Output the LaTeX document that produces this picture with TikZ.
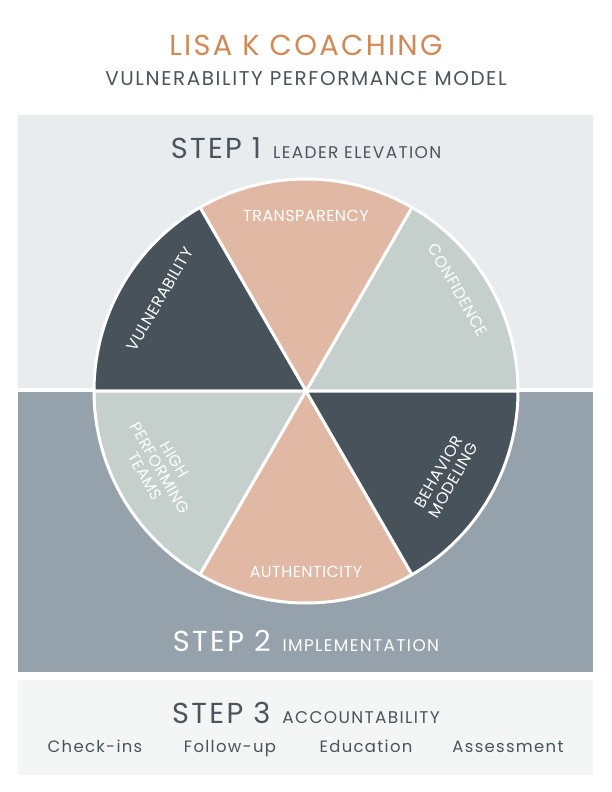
\documentclass[tikz,border=0pt]{standalone}
\usepackage{fontspec}
\setmainfont[LetterSpace=8]{Poppins}
\newfontfamily\wedgefont[LetterSpace=3]{Poppins}
\definecolor{darkslate}{HTML}{47525B}
\definecolor{blush}{HTML}{E0B8A3}
\definecolor{sage}{HTML}{C5CFCC}
\definecolor{bandone}{HTML}{E8ECEF}
\definecolor{bandtwo}{HTML}{95A2AB}
\definecolor{bandthree}{HTML}{F4F5F5}
\definecolor{copper}{HTML}{D08A57}
\definecolor{ink}{HTML}{4A545C}
\tikzset{
  wd/.style={draw=white,line width=3bp,line join=round},
  wl/.style={text=white,font=\wedgefont\fontsize{16}{17}\selectfont,align=center}
}
\newcommand{\steprow}[2]{\fontsize{29}{32}\selectfont STEP #1\hspace{12bp}\fontsize{17}{20}\selectfont #2}
\begin{document}
\begin{tikzpicture}[x=1bp,y=-1bp]
\useasboundingbox[fill=white] (0,0) rectangle (612,792);
\fill[bandone] (18,115) rectangle (593,388);
\fill[bandtwo] (18,392) rectangle (593,672);
\fill[bandthree] (18,680) rectangle (593,775);
\node[text=copper,font=\fontsize{29}{32}\selectfont] (title) at (306,45) {LISA K COACHING};
\node[text=ink,font=\fontsize{20}{24}\selectfont] (subtitle) at (306,79) {VULNERABILITY PERFORMANCE MODEL};
% wheel
\coordinate (c) at (306,391);
\foreach \a/\col in {300/sage,240/blush,180/darkslate,120/sage,60/blush,0/darkslate}
  \filldraw[wd,fill=\col] (c) -- ++(\a:212) arc[start angle=\a,end angle=\a+60,radius=212] -- cycle;
% wedge labels (y is flipped, so angles run clockwise)
\node[wl] (conf) at (458,290) [rotate=-60] {CONFIDENCE};
\node[wl] (trans) at (306,216) {TRANSPARENCY};
\node[wl] (vuln) at (160,299) [rotate=60] {VULNERABILITY};
\node[wl] (teams) at (160,468) [rotate=-60] {HIGH\\PERFORMING\\TEAMS};
\node[wl] (auth) at (306,572) {AUTHENTICITY};
\node[wl] (behav) at (446,476) [rotate=60] {BEHAVIOR\\MODELING};
% steps
\node[text=ink] (s1) at (306,148) {\steprow{1}{LEADER ELEVATION}};
\node[text=white] (s2) at (306,641) {\steprow{2}{IMPLEMENTATION}};
\node[text=ink] (s3) at (306,713) {\steprow{3}{ACCOUNTABILITY}};
\foreach \x/\t/\n in {95/Check-ins/ca,230/Follow-up/cb,366/Education/cc,508/Assessment/cd}
  \node[text=ink,font=\fontsize{16.5}{20}\selectfont,anchor=base] (\n) at (\x,752) {\t};
\end{tikzpicture}
\end{document}
